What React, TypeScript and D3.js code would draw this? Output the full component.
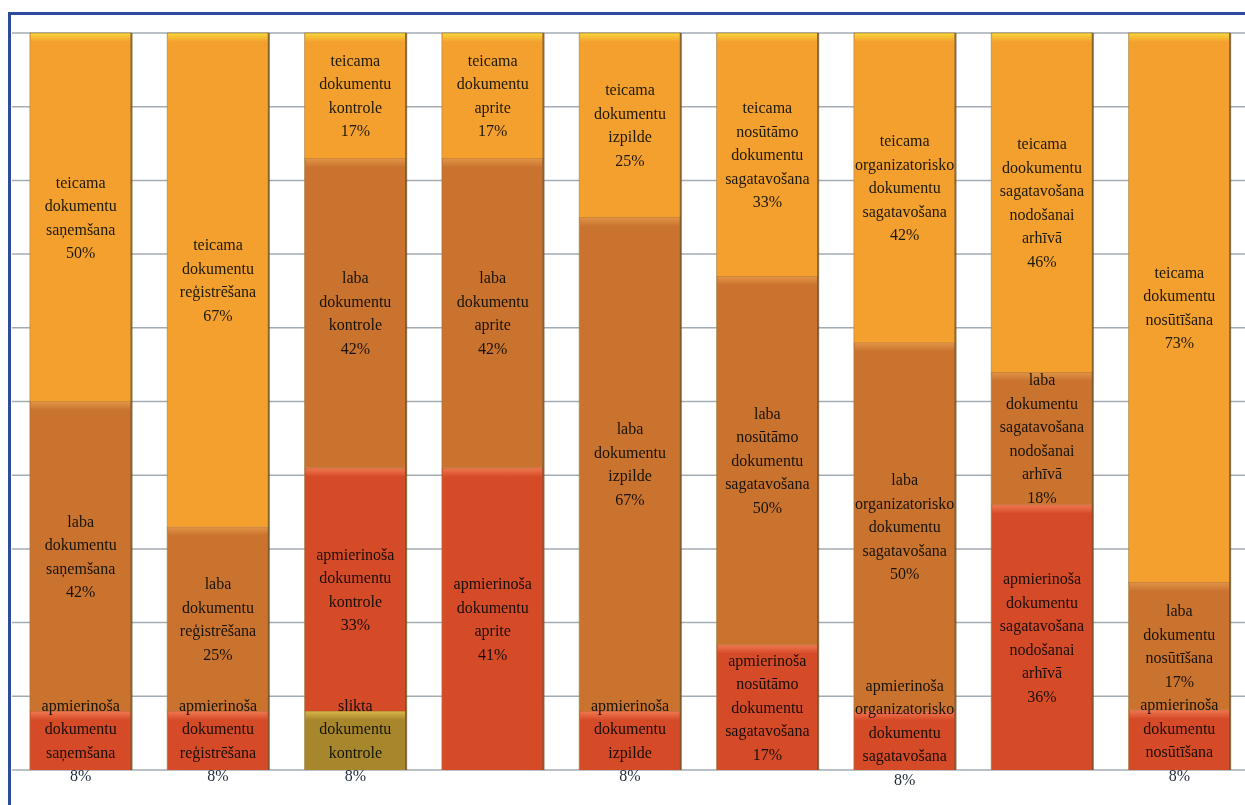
import React from "react";
import * as d3 from "d3";

const categories = [
  "saņemšana",
  "reģistrēšana",
  "kontrole",
  "aprite",
  "izpilde",
  "nosūtāmo sagatavošana",
  "organizatorisko sagatavošana",
  "nodošanai arhīvā",
  "nosūtīšana",
];

// words describing each category (used in the data labels)
const subjects: string[][] = [
  ["dokumentu", "saņemšana"],
  ["dokumentu", "reģistrēšana"],
  ["dokumentu", "kontrole"],
  ["dokumentu", "aprite"],
  ["dokumentu", "izpilde"],
  ["nosūtāmo", "dokumentu", "sagatavošana"],
  ["organizatorisko", "dokumentu", "sagatavošana"],
  ["dokumentu", "sagatavošana", "nodošanai", "arhīvā"],
  ["dokumentu", "nosūtīšana"],
];

const seriesKeys = ["slikta", "apmierinoša", "laba", "teicama"];

const slikta = [0, 0, 8, 0, 0, 0, 0, 0, 0];
const apmierinosa = [8, 8, 33, 41, 8, 17, 8, 36, 8];
const laba = [42, 25, 42, 42, 67, 50, 50, 18, 17];
const teicama = [50, 67, 17, 17, 25, 33, 42, 46, 73];

const yTicks = [0, 0.1, 0.2, 0.3, 0.4, 0.5, 0.6, 0.7, 0.8, 0.9, 1];

const colors: Record<string, string> = {
  slikta: "#a8862c",
  "apmierinoša": "#d64b27",
  laba: "#c9732e",
  teicama: "#f4a02e",
};
const highlights: Record<string, string> = {
  slikta: "#d8b84a",
  "apmierinoša": "#f07a52",
  laba: "#e39648",
  teicama: "#f8d83a",
};

const W = 1245;
const H = 805;

export default function App() {
  const rows = categories.map((c, i) => ({
    cat: c,
    idx: i,
    slikta: slikta[i],
    "apmierinoša": apmierinosa[i],
    laba: laba[i],
    teicama: teicama[i],
  }));

  const stack = d3
    .stack<any>()
    .keys(seriesKeys)
    .offset(d3.stackOffsetExpand);
  const series = stack(rows);

  const x = d3
    .scaleBand<string>()
    .domain(categories)
    .range([12, 1248])
    .paddingInner(0.26)
    .paddingOuter(0.13);
  const y = d3.scaleLinear().domain([0, 1]).range([770, 33]);

  const lineH = 23.5;
  const bottomLimit = 791;

  const labelLines = (key: string, i: number, v: number) => {
    let subj = subjects[i].slice();
    if (key === "teicama" && i === 7) subj[0] = "dookumentu";
    return [key, ...subj, `${v}%`];
  };

  return (
    <svg
      width={W}
      height={H}
      style={{ position: "absolute", left: 0, top: 0, background: "#fff" }}
      fontFamily="'Liberation Serif', 'Times New Roman', serif"
    >
      <defs>
        {seriesKeys.map((k) => (
          <linearGradient key={k} id={`hl-${k}`} x1="0" y1="0" x2="0" y2="1">
            <stop offset="0%" stopColor={highlights[k]} />
            <stop offset="100%" stopColor={colors[k]} />
          </linearGradient>
        ))}
      </defs>
      {/* border */}
      <rect x={9.5} y={13.5} width={W + 20} height={H + 20} fill="none" stroke="#2c4a9e" strokeWidth={3} />
      {/* gridlines */}
      {yTicks.map((t) => (
        <line key={t} x1={12} x2={W} y1={y(t)} y2={y(t)} stroke="#a3abb3" strokeWidth={1.5} />
      ))}
      {/* bars */}
      {series.map((s) =>
        s.map((d, i) => {
          if (d[1] - d[0] <= 0) return null;
          const x0 = x(categories[i])!;
          const bw = x.bandwidth();
          const yTop = y(d[1]);
          const yBot = y(d[0]);
          return (
            <g key={s.key + i}>
              <rect x={x0} y={yTop} width={bw} height={yBot - yTop} fill={colors[s.key]} />
              <rect x={x0 + 1} y={yTop} width={bw - 2} height={Math.min(9, yBot - yTop)} fill={`url(#hl-${s.key})`} />
              <line x1={x0} x2={x0 + bw} y1={yTop} y2={yTop} stroke="#8a5a20" strokeOpacity={0.5} strokeWidth={1} />
            </g>
          );
        })
      )}
      {/* bar edges */}
      {categories.map((c) => (
        <g key={"edge" + c}>
          <line x1={x(c)! + x.bandwidth()} x2={x(c)! + x.bandwidth()} y1={y(1)} y2={y(0)} stroke="#6a5028" strokeOpacity={0.8} strokeWidth={2} />
          <line x1={x(c)!} x2={x(c)!} y1={y(1)} y2={y(0)} stroke="#9a7a40" strokeOpacity={0.5} strokeWidth={1} />
        </g>
      ))}
      {/* labels */}
      {series.map((s) =>
        s.map((d, i) => {
          const v = (rows[i] as any)[s.key] as number;
          if (!v) return null;
          const lines = labelLines(s.key, i, v);
          const h = lines.length * lineH;
          let cy = (y(d[0]) + y(d[1])) / 2;
          cy = Math.min(cy, bottomLimit - h / 2);
          const cx = x(categories[i])! + x.bandwidth() / 2;
          return (
            <text
              key={"t" + s.key + i}
              x={cx}
              textAnchor="middle"
              fontSize={16}
              fill="#1e2838"
              style={{ mixBlendMode: "multiply" }}
            >
              {lines.map((ln, j) => (
                <tspan key={j} x={cx} y={cy - h / 2 + lineH * (j + 0.5)} dominantBaseline="central">
                  {ln}
                </tspan>
              ))}
            </text>
          );
        })
      )}
    </svg>
  );
}
